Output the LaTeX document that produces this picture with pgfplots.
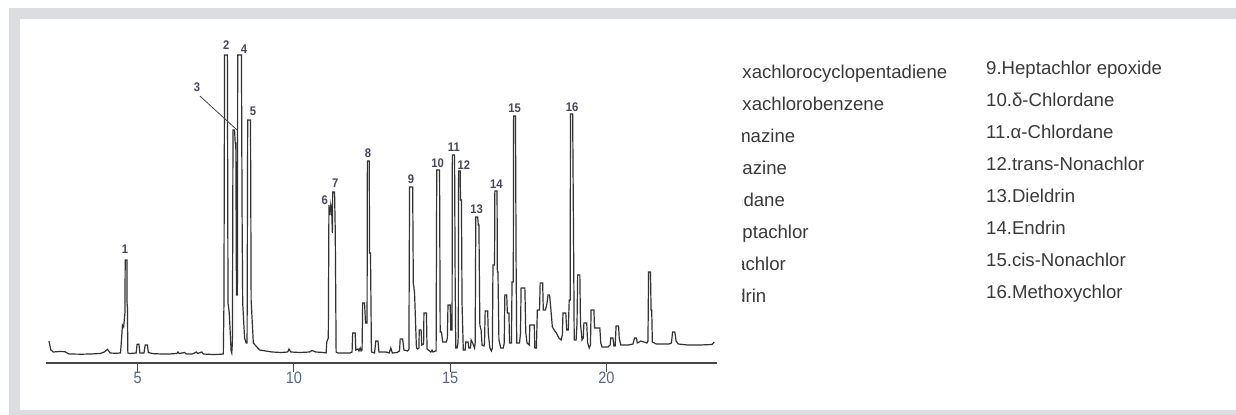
\documentclass[border=0pt]{standalone}
\usepackage{fontspec}
\setmainfont{Liberation Sans}
\newfontfamily\tickfont[FakeStretch=0.88]{Liberation Sans}
\newfontfamily\peakfont[FakeStretch=0.9]{Liberation Sans}
\usepackage{pgfplots}
\usepackage{pgfplotstable}
\pgfplotsset{compat=1.18}
\definecolor{framegrey}{RGB}{220,221,224}
\definecolor{axisgrey}{RGB}{70,70,70}
\definecolor{tracec}{RGB}{50,50,50}
\definecolor{ticklab}{RGB}{80,104,140}
\definecolor{peaklab}{RGB}{70,70,95}
\definecolor{legtext}{RGB}{58,58,58}

\pgfplotstableread{
x y
2.16 22
2.22 13
2.30 11
2.50 11.5
2.67 11.3
2.80 9
3.20 8.8
3.50 9
3.80 9.5
3.93 11
4.03 13.7
4.12 10
4.30 9.7
4.45 10
4.49 27
4.51 38
4.55 36
4.59 50
4.60 103
4.655 103
4.66 60
4.67 56
4.685 10
4.75 9.5
4.95 10
4.98 18.7
5.04 18.7
5.07 10
5.20 10
5.24 18
5.31 18
5.34 10.5
5.50 9.3
5.80 9
6.00 9
6.25 9.5
6.29 11
6.33 9.5
6.50 10.5
6.55 9
6.75 9
6.88 11
6.92 9.5
7.05 11
7.10 9
7.40 8.5
7.65 8.7
7.74 9
7.76 60
7.78 308
7.87 308
7.89 60
7.93 50
7.99 12
8.01 10
8.03 20
8.05 233
8.10 233
8.12 220
8.14 220
8.16 68
8.19 68
8.20 308
8.32 308
8.34 150
8.36 60
8.42 25
8.47 20
8.50 20
8.52 243
8.61 243
8.63 63
8.70 20
8.90 13
9.30 11
9.60 10.5
9.80 11
9.84 14
9.90 11
10.20 10.5
10.50 11
10.58 12.5
10.70 11
10.95 10.5
11.03 10
11.05 21
11.10 25
11.12 158
11.15 148
11.18 158
11.21 150
11.23 130
11.24 171
11.30 171
11.32 136
11.33 100
11.35 11
11.40 10
11.80 10
11.86 11
11.88 30
11.96 30
11.98 13
12.05 14
12.08 12
12.12 15
12.15 12
12.18 13
12.20 60
12.26 60
12.29 40
12.31 40
12.34 40
12.35 202
12.41 202
12.42 110
12.45 110
12.48 11
12.58 10
12.62 22
12.69 22
12.72 11
12.95 11
13.05 10
13.10 15
13.15 10
13.30 10.5
13.38 12
13.40 24
13.48 24
13.52 13
13.64 12
13.68 14
13.70 176
13.80 176
13.82 80
13.86 70
13.92 15
13.96 14
14.00 15
14.01 33
14.07 33
14.09 18
14.15 19
14.16 50
14.24 50
14.26 14
14.30 13
14.38 11
14.42 13
14.45 11
14.53 12
14.55 12
14.57 193
14.66 193
14.68 31
14.72 31
14.76 21
14.88 21
14.91 25
14.93 58
15.00 58
15.02 33
15.05 33
15.06 33
15.07 208
15.14 208
15.16 80
15.18 15
15.22 15
15.25 20
15.26 30
15.27 192
15.32 192
15.33 163
15.36 163
15.38 60
15.42 13
15.48 13
15.50 21
15.57 21
15.60 15
15.65 15
15.67 23
15.72 20
15.78 15
15.80 20
15.82 146
15.88 146
15.90 138
15.92 138
15.95 38
15.99 33
16.02 18
16.08 17
16.10 20
16.12 52
16.20 52
16.22 30
16.27 15
16.32 12
16.35 15
16.37 98
16.42 98
16.43 172
16.50 172
16.51 91
16.53 91
16.56 23
16.62 15
16.70 15
16.73 20
16.75 68
16.81 68
16.83 50
16.88 50
16.90 20
16.96 20
16.98 81
17.02 81
17.03 247
17.09 247
17.11 100
17.13 20
17.22 20
17.25 30
17.27 75
17.39 75
17.42 30
17.46 20
17.53 18
17.55 38
17.69 38
17.71 15
17.76 15
17.79 53
17.86 53
17.88 80
17.96 80
17.98 53
18.05 53
18.10 60
18.13 68
18.18 68
18.22 55
18.27 36
18.35 32
18.40 30
18.48 25
18.55 23
18.59 28
18.61 50
18.70 50
18.73 33
18.78 33
18.81 63
18.84 63
18.85 249
18.92 249
18.93 203
18.95 118
18.97 23
19.03 23
19.06 40
19.08 88
19.15 88
19.17 40
19.22 23
19.26 25
19.28 40
19.37 40
19.40 20
19.45 15
19.49 18
19.51 53
19.60 53
19.62 35
19.79 35
19.82 20
19.86 16
20.05 16
20.12 18
20.14 25
20.21 25
20.24 17
20.28 17
20.31 37
20.39 37
20.41 25
20.46 18
20.70 18
20.85 19
20.90 25
20.96 25
20.99 20
21.05 21
21.10 22
21.20 21
21.30 20
21.33 22
21.35 91
21.41 91
21.43 53
21.45 53
21.47 21
21.60 19
22.00 19
22.08 20
22.12 31
22.19 31
22.23 22
22.30 19
22.60 18
23.00 18
23.38 18.5
23.45 21
}\chrom

\begin{document}
\begin{tikzpicture}
\useasboundingbox (0bp,0bp) rectangle (1236bp,415bp);
\fill[framegrey] (9bp,0bp) rectangle (1236bp,407bp);
\fill[white] (20bp,5bp) rectangle (1235.5bp,396bp);
\begin{axis}[
  at={(46bp,52bp)}, anchor=south west,
  scale only axis, width=670.7bp, height=330bp,
  xmin=2.065, xmax=23.53, ymin=0, ymax=330,
  axis x line*=bottom, axis y line=none,
  x axis line style={-, draw=axisgrey, line width=1.2bp},
  xtick={5,10,15,20},
  tick align=outside, major tick length=9bp,
  xtick style={draw=axisgrey, line width=1bp},
  /pgf/number format/assume math mode=true,
  xticklabel style={font=\tickfont\fontsize{16.5bp}{18bp}\selectfont, text=ticklab, anchor=north, inner sep=0pt},
  clip=false,
]
\addplot[tracec, line width=1.2bp, no markers] table {\chrom};
\tikzset{pk/.style={font=\peakfont\bfseries\fontsize{12.5bp}{14bp}\selectfont, text=peaklab, inner sep=0pt}}
\node[pk] at (axis cs:4.59,114) {1};
\node[pk] at (axis cs:7.83,318) {2};
\node[pk] at (axis cs:6.90,276) {3};
\node[pk] at (axis cs:8.40,314) {4};
\node[pk] at (axis cs:8.69,252) {5};
\node[pk] at (axis cs:10.99,163) {6};
\node[pk] at (axis cs:11.32,180) {7};
\node[pk] at (axis cs:12.37,210) {8};
\node[pk] at (axis cs:13.75,184) {9};
\node[pk] at (axis cs:14.60,200) {10};
\node[pk] at (axis cs:15.12,216) {11};
\node[pk] at (axis cs:15.44,198) {12};
\node[pk] at (axis cs:15.85,154) {13};
\node[pk] at (axis cs:16.48,179) {14};
\node[pk] at (axis cs:17.06,255) {15};
\node[pk] at (axis cs:18.90,256) {16};
\draw[axisgrey, line width=0.8bp] (axis cs:6.99,267) -- (axis cs:8.18,233);
\end{axis}
\tikzset{lg/.style={anchor=base west, inner sep=0pt, font=\fontsize{18.6bp}{22bp}\selectfont, text=legtext}}
\begin{scope}
\clip (742.5bp,0bp) rectangle (980bp,415bp);
\node[lg] at (703bp,336bp) {1.Hexachlorocyclopentadiene};
\node[lg] at (703bp,304bp) {2.Hexachlorobenzene};
\node[lg] at (703bp,272bp) {3.Simazine};
\node[lg] at (703bp,240bp) {4.Atrazine};
\node[lg] at (703bp,208bp) {5.Lindane};
\node[lg] at (703bp,176bp) {6.Heptachlor};
\node[lg] at (703bp,144bp) {7.Alachlor};
\node[lg] at (703bp,112bp) {8.Aldrin};
\end{scope}
\node[lg] at (986bp,340bp) {9.Heptachlor epoxide};
\node[lg] at (986bp,308bp) {10.δ-Chlordane};
\node[lg] at (986bp,276bp) {11.α-Chlordane};
\node[lg] at (986bp,244bp) {12.trans-Nonachlor};
\node[lg] at (986bp,212bp) {13.Dieldrin};
\node[lg] at (986bp,180bp) {14.Endrin};
\node[lg] at (986bp,148bp) {15.cis-Nonachlor};
\node[lg] at (986bp,116bp) {16.Methoxychlor};
\end{tikzpicture}
\end{document}
